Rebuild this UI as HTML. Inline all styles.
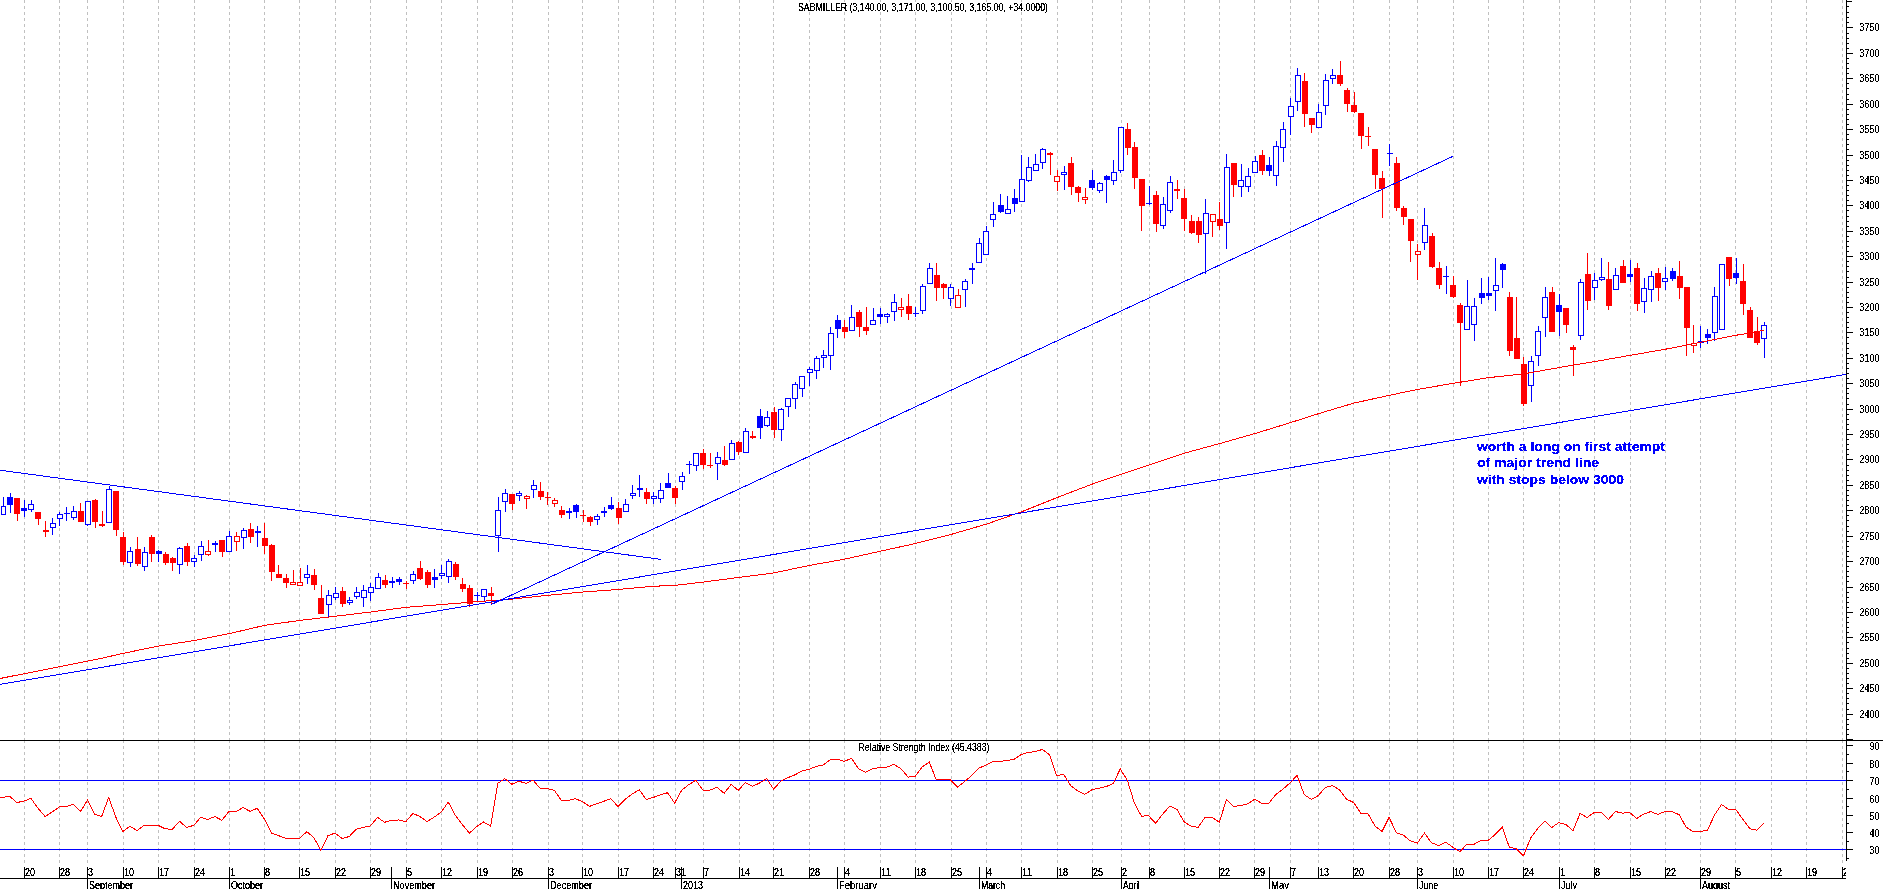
<!DOCTYPE html><html><head><meta charset="utf-8"><style>html,body{margin:0;padding:0;background:#fff;overflow:hidden}svg{display:block}text{font-family:"Liberation Sans",sans-serif}</style></head><body>
<svg width="1883" height="889" viewBox="0 0 1883 889" shape-rendering="crispEdges">
<rect x="0" y="0" width="1883" height="889" fill="#fff"/>
<defs><filter id="th" color-interpolation-filters="sRGB"><feComponentTransfer><feFuncA type="discrete" tableValues="0 1 1"/></feComponentTransfer></filter></defs>
<path d="M24.5 0V740 M59.5 0V740 M87.5 0V740 M123.5 0V740 M158.5 0V740 M194.5 0V740 M229.5 0V740 M264.5 0V740 M299.5 0V740 M335.5 0V740 M370.5 0V740 M406.5 0V740 M441.5 0V740 M477.5 0V740 M512.5 0V740 M548.5 0V740 M582.5 0V740 M618.5 0V740 M653.5 0V740 M675.5 0V740 M703.5 0V740 M739.5 0V740 M773.5 0V740 M809.5 0V740 M844.5 0V740 M880.5 0V740 M915.5 0V740 M951.5 0V740 M986.5 0V740 M1021.5 0V740 M1057.5 0V740 M1092.5 0V740 M1121.5 0V740 M1149.5 0V740 M1184.5 0V740 M1219.5 0V740 M1254.5 0V740 M1290.5 0V740 M1318.5 0V740 M1353.5 0V740 M1389.5 0V740 M1417.5 0V740 M1453.5 0V740 M1488.5 0V740 M1523.5 0V740 M1559.5 0V740 M1594.5 0V740 M1630.5 0V740 M1665.5 0V740 M1700.5 0V740 M1735.5 0V740 M1771.5 0V740 M1806.5 0V740 M1842.5 0V740" stroke="#c0c0c0" stroke-width="1" stroke-dasharray="3 3" fill="none"/>
<path d="M24.5 740V866 M59.5 740V866 M87.5 740V866 M123.5 740V866 M158.5 740V866 M194.5 740V866 M229.5 740V866 M264.5 740V866 M299.5 740V866 M335.5 740V866 M370.5 740V866 M406.5 740V866 M441.5 740V866 M477.5 740V866 M512.5 740V866 M548.5 740V866 M582.5 740V866 M618.5 740V866 M653.5 740V866 M675.5 740V866 M703.5 740V866 M739.5 740V866 M773.5 740V866 M809.5 740V866 M844.5 740V866 M880.5 740V866 M915.5 740V866 M951.5 740V866 M986.5 740V866 M1021.5 740V866 M1057.5 740V866 M1092.5 740V866 M1121.5 740V866 M1149.5 740V866 M1184.5 740V866 M1219.5 740V866 M1254.5 740V866 M1290.5 740V866 M1318.5 740V866 M1353.5 740V866 M1389.5 740V866 M1417.5 740V866 M1453.5 740V866 M1488.5 740V866 M1523.5 740V866 M1559.5 740V866 M1594.5 740V866 M1630.5 740V866 M1665.5 740V866 M1700.5 740V866 M1735.5 740V866 M1771.5 740V866 M1806.5 740V866 M1842.5 740V866" stroke="#c0c0c0" stroke-width="1" stroke-dasharray="3 3" fill="none"/>
<rect x="796" y="2" width="255" height="10" fill="#fff"/>
<g filter="url(#th)"><text x="798" y="11" font-size="10" textLength="250" lengthAdjust="spacingAndGlyphs" fill="#000">SABMILLER (3,140.00, 3,171.00, 3,100.50, 3,165.00, +34.0000)</text></g>
<rect x="856" y="742" width="136" height="10" fill="#fff"/>
<g filter="url(#th)"><text x="858.5" y="750.5" font-size="10" textLength="131" lengthAdjust="spacingAndGlyphs" fill="#000">Relative Strength Index (45.4383)</text></g>
<path d="M0 780.5H1846M0 849.5H1846" stroke="#0000ff" stroke-width="1"/>
<rect x="3" y="497" width="1" height="18" fill="#0000ff"/>
<rect x="1.5" y="506.5" width="4" height="8" fill="#fff" stroke="#0000ff" stroke-width="1"/>
<rect x="10" y="493" width="1" height="20" fill="#0000ff"/>
<rect x="7" y="497" width="6" height="8" fill="#0000ff"/>
<rect x="17" y="498" width="1" height="23" fill="#ff0000"/>
<rect x="14" y="498" width="6" height="16" fill="#ff0000"/>
<rect x="24" y="500" width="1" height="17" fill="#0000ff"/>
<rect x="21" y="508" width="6" height="3" fill="#0000ff"/>
<rect x="31" y="500" width="1" height="12" fill="#0000ff"/>
<rect x="28.5" y="504.5" width="5" height="5" fill="#fff" stroke="#0000ff" stroke-width="1"/>
<rect x="38" y="512" width="1" height="13" fill="#ff0000"/>
<rect x="35" y="512" width="6" height="7" fill="#ff0000"/>
<rect x="45" y="521" width="1" height="16" fill="#ff0000"/>
<rect x="43" y="530" width="6" height="2" fill="#ff0000"/>
<rect x="52" y="518" width="1" height="17" fill="#0000ff"/>
<rect x="50.5" y="523.5" width="5" height="4" fill="#fff" stroke="#0000ff" stroke-width="1"/>
<rect x="59" y="512" width="1" height="14" fill="#0000ff"/>
<rect x="57.5" y="514.5" width="5" height="4" fill="#fff" stroke="#0000ff" stroke-width="1"/>
<rect x="66" y="507" width="1" height="14" fill="#0000ff"/>
<rect x="64" y="513" width="6" height="1" fill="#0000ff"/>
<rect x="73" y="506" width="1" height="14" fill="#0000ff"/>
<rect x="71.5" y="511.5" width="5" height="6" fill="#fff" stroke="#0000ff" stroke-width="1"/>
<rect x="80" y="503" width="1" height="19" fill="#ff0000"/>
<rect x="78" y="511" width="6" height="11" fill="#ff0000"/>
<rect x="87" y="501" width="1" height="25" fill="#0000ff"/>
<rect x="85.5" y="501.5" width="5" height="23" fill="#fff" stroke="#0000ff" stroke-width="1"/>
<rect x="95" y="499" width="1" height="29" fill="#ff0000"/>
<rect x="92" y="500" width="6" height="22" fill="#ff0000"/>
<rect x="102" y="511" width="1" height="16" fill="#ff0000"/>
<rect x="99" y="524" width="6" height="2" fill="#ff0000"/>
<rect x="109" y="486" width="1" height="37" fill="#0000ff"/>
<rect x="106.5" y="489.5" width="5" height="33" fill="#fff" stroke="#0000ff" stroke-width="1"/>
<rect x="116" y="491" width="1" height="45" fill="#ff0000"/>
<rect x="113" y="491" width="6" height="39" fill="#ff0000"/>
<rect x="123" y="532" width="1" height="33" fill="#ff0000"/>
<rect x="120" y="537" width="6" height="25" fill="#ff0000"/>
<rect x="130" y="547" width="1" height="20" fill="#0000ff"/>
<rect x="127.5" y="551.5" width="5" height="11" fill="#fff" stroke="#0000ff" stroke-width="1"/>
<rect x="137" y="537" width="1" height="29" fill="#ff0000"/>
<rect x="135" y="549" width="6" height="15" fill="#ff0000"/>
<rect x="144" y="547" width="1" height="24" fill="#0000ff"/>
<rect x="142.5" y="552.5" width="5" height="14" fill="#fff" stroke="#0000ff" stroke-width="1"/>
<rect x="151" y="535" width="1" height="27" fill="#ff0000"/>
<rect x="149" y="537" width="6" height="17" fill="#ff0000"/>
<rect x="158" y="550" width="1" height="12" fill="#0000ff"/>
<rect x="156" y="551" width="6" height="3" fill="#0000ff"/>
<rect x="165" y="552" width="1" height="13" fill="#ff0000"/>
<rect x="163" y="554" width="6" height="9" fill="#ff0000"/>
<rect x="172" y="557" width="1" height="14" fill="#ff0000"/>
<rect x="170" y="558" width="6" height="5" fill="#ff0000"/>
<rect x="179" y="547" width="1" height="27" fill="#0000ff"/>
<rect x="177.5" y="548.5" width="5" height="16" fill="#fff" stroke="#0000ff" stroke-width="1"/>
<rect x="187" y="543" width="1" height="23" fill="#ff0000"/>
<rect x="184" y="546" width="6" height="16" fill="#ff0000"/>
<rect x="194" y="555" width="1" height="12" fill="#0000ff"/>
<rect x="191.5" y="558.5" width="5" height="3" fill="#fff" stroke="#0000ff" stroke-width="1"/>
<rect x="201" y="541" width="1" height="20" fill="#0000ff"/>
<rect x="198.5" y="546.5" width="5" height="8" fill="#fff" stroke="#0000ff" stroke-width="1"/>
<rect x="208" y="540" width="1" height="16" fill="#ff0000"/>
<rect x="205.5" y="551.5" width="5" height="3" fill="#fff" stroke="#ff0000" stroke-width="1"/>
<rect x="215" y="541" width="1" height="11" fill="#0000ff"/>
<rect x="212" y="543" width="6" height="2" fill="#0000ff"/>
<rect x="222" y="540" width="1" height="17" fill="#ff0000"/>
<rect x="219" y="540" width="6" height="12" fill="#ff0000"/>
<rect x="229" y="531" width="1" height="21" fill="#0000ff"/>
<rect x="226.5" y="536.5" width="5" height="15" fill="#fff" stroke="#0000ff" stroke-width="1"/>
<rect x="236" y="532" width="1" height="19" fill="#ff0000"/>
<rect x="234.5" y="536.5" width="5" height="5" fill="#fff" stroke="#ff0000" stroke-width="1"/>
<rect x="243" y="528" width="1" height="21" fill="#0000ff"/>
<rect x="241.5" y="530.5" width="5" height="7" fill="#fff" stroke="#0000ff" stroke-width="1"/>
<rect x="250" y="523" width="1" height="20" fill="#ff0000"/>
<rect x="248" y="529" width="6" height="8" fill="#ff0000"/>
<rect x="257" y="526" width="1" height="21" fill="#0000ff"/>
<rect x="255" y="531" width="6" height="2" fill="#0000ff"/>
<rect x="264" y="523" width="1" height="31" fill="#ff0000"/>
<rect x="262" y="538" width="6" height="8" fill="#ff0000"/>
<rect x="271" y="544" width="1" height="37" fill="#ff0000"/>
<rect x="269" y="545" width="6" height="27" fill="#ff0000"/>
<rect x="278" y="565" width="1" height="13" fill="#ff0000"/>
<rect x="276" y="574" width="6" height="4" fill="#ff0000"/>
<rect x="286" y="574" width="1" height="14" fill="#ff0000"/>
<rect x="283" y="578" width="6" height="5" fill="#ff0000"/>
<rect x="293" y="570" width="1" height="15" fill="#ff0000"/>
<rect x="290.5" y="582.5" width="5" height="2" fill="#fff" stroke="#ff0000" stroke-width="1"/>
<rect x="300" y="568" width="1" height="18" fill="#ff0000"/>
<rect x="297.5" y="582.5" width="5" height="3" fill="#fff" stroke="#ff0000" stroke-width="1"/>
<rect x="307" y="565" width="1" height="19" fill="#0000ff"/>
<rect x="304.5" y="574.5" width="5" height="3" fill="#fff" stroke="#0000ff" stroke-width="1"/>
<rect x="314" y="569" width="1" height="21" fill="#ff0000"/>
<rect x="311" y="575" width="6" height="10" fill="#ff0000"/>
<rect x="321" y="585" width="1" height="29" fill="#ff0000"/>
<rect x="318" y="598" width="6" height="16" fill="#ff0000"/>
<rect x="328" y="590" width="1" height="27" fill="#0000ff"/>
<rect x="326.5" y="595.5" width="5" height="9" fill="#fff" stroke="#0000ff" stroke-width="1"/>
<rect x="335" y="587" width="1" height="13" fill="#0000ff"/>
<rect x="333.5" y="593.5" width="5" height="4" fill="#fff" stroke="#0000ff" stroke-width="1"/>
<rect x="342" y="587" width="1" height="20" fill="#ff0000"/>
<rect x="340" y="591" width="6" height="13" fill="#ff0000"/>
<rect x="349" y="597" width="1" height="8" fill="#0000ff"/>
<rect x="347.5" y="600.5" width="5" height="2" fill="#fff" stroke="#0000ff" stroke-width="1"/>
<rect x="356" y="587" width="1" height="12" fill="#0000ff"/>
<rect x="354.5" y="592.5" width="5" height="4" fill="#fff" stroke="#0000ff" stroke-width="1"/>
<rect x="363" y="585" width="1" height="22" fill="#0000ff"/>
<rect x="361.5" y="590.5" width="5" height="7" fill="#fff" stroke="#0000ff" stroke-width="1"/>
<rect x="370" y="583" width="1" height="18" fill="#0000ff"/>
<rect x="368.5" y="587.5" width="5" height="5" fill="#fff" stroke="#0000ff" stroke-width="1"/>
<rect x="378" y="573" width="1" height="16" fill="#0000ff"/>
<rect x="375.5" y="577.5" width="5" height="11" fill="#fff" stroke="#0000ff" stroke-width="1"/>
<rect x="385" y="575" width="1" height="13" fill="#ff0000"/>
<rect x="382" y="580" width="6" height="5" fill="#ff0000"/>
<rect x="392" y="577" width="1" height="11" fill="#0000ff"/>
<rect x="389" y="581" width="6" height="2" fill="#0000ff"/>
<rect x="399" y="577" width="1" height="8" fill="#0000ff"/>
<rect x="396" y="579" width="6" height="3" fill="#0000ff"/>
<rect x="406" y="581" width="1" height="8" fill="#ff0000"/>
<rect x="403" y="583" width="6" height="1" fill="#ff0000"/>
<rect x="413" y="571" width="1" height="13" fill="#0000ff"/>
<rect x="410.5" y="574.5" width="5" height="6" fill="#fff" stroke="#0000ff" stroke-width="1"/>
<rect x="420" y="561" width="1" height="19" fill="#ff0000"/>
<rect x="417" y="568" width="6" height="11" fill="#ff0000"/>
<rect x="427" y="570" width="1" height="18" fill="#ff0000"/>
<rect x="425" y="572" width="6" height="13" fill="#ff0000"/>
<rect x="434" y="569" width="1" height="19" fill="#0000ff"/>
<rect x="432" y="577" width="6" height="3" fill="#0000ff"/>
<rect x="441" y="565" width="1" height="14" fill="#0000ff"/>
<rect x="439.5" y="573.5" width="5" height="2" fill="#fff" stroke="#0000ff" stroke-width="1"/>
<rect x="448" y="559" width="1" height="24" fill="#0000ff"/>
<rect x="446.5" y="561.5" width="5" height="15" fill="#fff" stroke="#0000ff" stroke-width="1"/>
<rect x="455" y="562" width="1" height="18" fill="#ff0000"/>
<rect x="453" y="564" width="6" height="13" fill="#ff0000"/>
<rect x="462" y="578" width="1" height="14" fill="#ff0000"/>
<rect x="460" y="584" width="6" height="5" fill="#ff0000"/>
<rect x="469" y="585" width="1" height="22" fill="#ff0000"/>
<rect x="467" y="588" width="6" height="16" fill="#ff0000"/>
<rect x="477" y="592" width="1" height="9" fill="#0000ff"/>
<rect x="474" y="595" width="6" height="1" fill="#0000ff"/>
<rect x="484" y="589" width="1" height="12" fill="#0000ff"/>
<rect x="481.5" y="589.5" width="5" height="7" fill="#fff" stroke="#0000ff" stroke-width="1"/>
<rect x="491" y="587" width="1" height="18" fill="#ff0000"/>
<rect x="488" y="593" width="6" height="3" fill="#ff0000"/>
<rect x="498" y="497" width="1" height="55" fill="#0000ff"/>
<rect x="495.5" y="510.5" width="5" height="25" fill="#fff" stroke="#0000ff" stroke-width="1"/>
<rect x="505" y="489" width="1" height="23" fill="#0000ff"/>
<rect x="502.5" y="493.5" width="5" height="8" fill="#fff" stroke="#0000ff" stroke-width="1"/>
<rect x="512" y="494" width="1" height="16" fill="#ff0000"/>
<rect x="509" y="494" width="6" height="10" fill="#ff0000"/>
<rect x="519" y="491" width="1" height="10" fill="#0000ff"/>
<rect x="516.5" y="493.5" width="5" height="2" fill="#fff" stroke="#0000ff" stroke-width="1"/>
<rect x="526" y="495" width="1" height="14" fill="#ff0000"/>
<rect x="524.5" y="496.5" width="5" height="2" fill="#fff" stroke="#ff0000" stroke-width="1"/>
<rect x="533" y="480" width="1" height="18" fill="#0000ff"/>
<rect x="531.5" y="485.5" width="5" height="4" fill="#fff" stroke="#0000ff" stroke-width="1"/>
<rect x="540" y="482" width="1" height="18" fill="#ff0000"/>
<rect x="538" y="491" width="6" height="6" fill="#ff0000"/>
<rect x="547" y="492" width="1" height="13" fill="#ff0000"/>
<rect x="545" y="497" width="6" height="1" fill="#ff0000"/>
<rect x="554" y="498" width="1" height="9" fill="#ff0000"/>
<rect x="552.5" y="500.5" width="5" height="3" fill="#fff" stroke="#ff0000" stroke-width="1"/>
<rect x="561" y="506" width="1" height="12" fill="#ff0000"/>
<rect x="559" y="510" width="6" height="5" fill="#ff0000"/>
<rect x="569" y="508" width="1" height="11" fill="#0000ff"/>
<rect x="566" y="511" width="6" height="2" fill="#0000ff"/>
<rect x="576" y="504" width="1" height="14" fill="#0000ff"/>
<rect x="573" y="505" width="6" height="7" fill="#0000ff"/>
<rect x="583" y="510" width="1" height="12" fill="#ff0000"/>
<rect x="580" y="515" width="6" height="1" fill="#ff0000"/>
<rect x="590" y="516" width="1" height="10" fill="#ff0000"/>
<rect x="587" y="517" width="6" height="5" fill="#ff0000"/>
<rect x="597" y="514" width="1" height="11" fill="#0000ff"/>
<rect x="594.5" y="516.5" width="5" height="3" fill="#fff" stroke="#0000ff" stroke-width="1"/>
<rect x="604" y="507" width="1" height="10" fill="#0000ff"/>
<rect x="601" y="511" width="6" height="2" fill="#0000ff"/>
<rect x="611" y="497" width="1" height="13" fill="#0000ff"/>
<rect x="608" y="505" width="6" height="4" fill="#0000ff"/>
<rect x="618" y="502" width="1" height="22" fill="#ff0000"/>
<rect x="616" y="508" width="6" height="10" fill="#ff0000"/>
<rect x="625" y="499" width="1" height="13" fill="#0000ff"/>
<rect x="623.5" y="504.5" width="5" height="7" fill="#fff" stroke="#0000ff" stroke-width="1"/>
<rect x="632" y="485" width="1" height="14" fill="#0000ff"/>
<rect x="630.5" y="493.5" width="5" height="2" fill="#fff" stroke="#0000ff" stroke-width="1"/>
<rect x="639" y="475" width="1" height="22" fill="#0000ff"/>
<rect x="637" y="488" width="6" height="2" fill="#0000ff"/>
<rect x="646" y="488" width="1" height="16" fill="#ff0000"/>
<rect x="644" y="492" width="6" height="7" fill="#ff0000"/>
<rect x="653" y="492" width="1" height="12" fill="#0000ff"/>
<rect x="651.5" y="496.5" width="5" height="2" fill="#fff" stroke="#0000ff" stroke-width="1"/>
<rect x="660" y="483" width="1" height="20" fill="#0000ff"/>
<rect x="658.5" y="490.5" width="5" height="8" fill="#fff" stroke="#0000ff" stroke-width="1"/>
<rect x="668" y="473" width="1" height="15" fill="#0000ff"/>
<rect x="665" y="483" width="6" height="5" fill="#0000ff"/>
<rect x="675" y="486" width="1" height="18" fill="#ff0000"/>
<rect x="672" y="488" width="6" height="10" fill="#ff0000"/>
<rect x="682" y="472" width="1" height="18" fill="#0000ff"/>
<rect x="679.5" y="476.5" width="5" height="5" fill="#fff" stroke="#0000ff" stroke-width="1"/>
<rect x="689" y="461" width="1" height="13" fill="#0000ff"/>
<rect x="686" y="464" width="6" height="1" fill="#0000ff"/>
<rect x="696" y="453" width="1" height="18" fill="#0000ff"/>
<rect x="693.5" y="453.5" width="5" height="12" fill="#fff" stroke="#0000ff" stroke-width="1"/>
<rect x="703" y="449" width="1" height="20" fill="#ff0000"/>
<rect x="700" y="453" width="6" height="12" fill="#ff0000"/>
<rect x="710" y="453" width="1" height="15" fill="#ff0000"/>
<rect x="707" y="465" width="6" height="1" fill="#ff0000"/>
<rect x="717" y="452" width="1" height="28" fill="#0000ff"/>
<rect x="715.5" y="457.5" width="5" height="6" fill="#fff" stroke="#0000ff" stroke-width="1"/>
<rect x="724" y="446" width="1" height="20" fill="#ff0000"/>
<rect x="722" y="460" width="6" height="5" fill="#ff0000"/>
<rect x="731" y="440" width="1" height="20" fill="#0000ff"/>
<rect x="729.5" y="443.5" width="5" height="16" fill="#fff" stroke="#0000ff" stroke-width="1"/>
<rect x="738" y="441" width="1" height="14" fill="#ff0000"/>
<rect x="736" y="442" width="6" height="10" fill="#ff0000"/>
<rect x="745" y="428" width="1" height="25" fill="#0000ff"/>
<rect x="743.5" y="431.5" width="5" height="21" fill="#fff" stroke="#0000ff" stroke-width="1"/>
<rect x="752" y="431" width="1" height="8" fill="#ff0000"/>
<rect x="750" y="436" width="6" height="2" fill="#ff0000"/>
<rect x="760" y="409" width="1" height="30" fill="#0000ff"/>
<rect x="757" y="416" width="6" height="12" fill="#0000ff"/>
<rect x="767" y="411" width="1" height="16" fill="#0000ff"/>
<rect x="764.5" y="417.5" width="5" height="8" fill="#fff" stroke="#0000ff" stroke-width="1"/>
<rect x="774" y="407" width="1" height="31" fill="#ff0000"/>
<rect x="771" y="412" width="6" height="18" fill="#ff0000"/>
<rect x="781" y="408" width="1" height="33" fill="#0000ff"/>
<rect x="778.5" y="409.5" width="5" height="20" fill="#fff" stroke="#0000ff" stroke-width="1"/>
<rect x="788" y="398" width="1" height="19" fill="#0000ff"/>
<rect x="785.5" y="398.5" width="5" height="8" fill="#fff" stroke="#0000ff" stroke-width="1"/>
<rect x="795" y="382" width="1" height="27" fill="#0000ff"/>
<rect x="792.5" y="384.5" width="5" height="14" fill="#fff" stroke="#0000ff" stroke-width="1"/>
<rect x="802" y="376" width="1" height="21" fill="#0000ff"/>
<rect x="799.5" y="376.5" width="5" height="12" fill="#fff" stroke="#0000ff" stroke-width="1"/>
<rect x="809" y="367" width="1" height="19" fill="#0000ff"/>
<rect x="807.5" y="369.5" width="5" height="3" fill="#fff" stroke="#0000ff" stroke-width="1"/>
<rect x="816" y="356" width="1" height="23" fill="#0000ff"/>
<rect x="814.5" y="358.5" width="5" height="12" fill="#fff" stroke="#0000ff" stroke-width="1"/>
<rect x="823" y="350" width="1" height="18" fill="#0000ff"/>
<rect x="821.5" y="355.5" width="5" height="2" fill="#fff" stroke="#0000ff" stroke-width="1"/>
<rect x="830" y="327" width="1" height="43" fill="#0000ff"/>
<rect x="828.5" y="333.5" width="5" height="22" fill="#fff" stroke="#0000ff" stroke-width="1"/>
<rect x="837" y="315" width="1" height="23" fill="#0000ff"/>
<rect x="835" y="320" width="6" height="9" fill="#0000ff"/>
<rect x="844" y="320" width="1" height="18" fill="#ff0000"/>
<rect x="842" y="327" width="6" height="5" fill="#ff0000"/>
<rect x="851" y="305" width="1" height="26" fill="#0000ff"/>
<rect x="849.5" y="317.5" width="5" height="13" fill="#fff" stroke="#0000ff" stroke-width="1"/>
<rect x="859" y="310" width="1" height="27" fill="#ff0000"/>
<rect x="856" y="312" width="6" height="15" fill="#ff0000"/>
<rect x="866" y="307" width="1" height="28" fill="#ff0000"/>
<rect x="863" y="327" width="6" height="4" fill="#ff0000"/>
<rect x="873" y="308" width="1" height="17" fill="#0000ff"/>
<rect x="870.5" y="320.5" width="5" height="4" fill="#fff" stroke="#0000ff" stroke-width="1"/>
<rect x="880" y="308" width="1" height="16" fill="#0000ff"/>
<rect x="877" y="314" width="6" height="3" fill="#0000ff"/>
<rect x="887" y="313" width="1" height="10" fill="#0000ff"/>
<rect x="884.5" y="314.5" width="5" height="2" fill="#fff" stroke="#0000ff" stroke-width="1"/>
<rect x="894" y="294" width="1" height="27" fill="#0000ff"/>
<rect x="891.5" y="302.5" width="5" height="9" fill="#fff" stroke="#0000ff" stroke-width="1"/>
<rect x="901" y="298" width="1" height="19" fill="#ff0000"/>
<rect x="898.5" y="307.5" width="5" height="2" fill="#fff" stroke="#ff0000" stroke-width="1"/>
<rect x="908" y="294" width="1" height="26" fill="#ff0000"/>
<rect x="906" y="306" width="6" height="8" fill="#ff0000"/>
<rect x="915" y="307" width="1" height="10" fill="#0000ff"/>
<rect x="913" y="313" width="6" height="1" fill="#0000ff"/>
<rect x="922" y="284" width="1" height="30" fill="#0000ff"/>
<rect x="920.5" y="286.5" width="5" height="24" fill="#fff" stroke="#0000ff" stroke-width="1"/>
<rect x="929" y="263" width="1" height="21" fill="#0000ff"/>
<rect x="927.5" y="268.5" width="5" height="15" fill="#fff" stroke="#0000ff" stroke-width="1"/>
<rect x="936" y="263" width="1" height="38" fill="#ff0000"/>
<rect x="934" y="275" width="6" height="13" fill="#ff0000"/>
<rect x="943" y="283" width="1" height="16" fill="#ff0000"/>
<rect x="941" y="284" width="6" height="4" fill="#ff0000"/>
<rect x="950" y="284" width="1" height="22" fill="#0000ff"/>
<rect x="948.5" y="287.5" width="5" height="11" fill="#fff" stroke="#0000ff" stroke-width="1"/>
<rect x="958" y="289" width="1" height="19" fill="#ff0000"/>
<rect x="955.5" y="295.5" width="5" height="12" fill="#fff" stroke="#ff0000" stroke-width="1"/>
<rect x="965" y="279" width="1" height="28" fill="#0000ff"/>
<rect x="962.5" y="281.5" width="5" height="8" fill="#fff" stroke="#0000ff" stroke-width="1"/>
<rect x="972" y="263" width="1" height="21" fill="#0000ff"/>
<rect x="969" y="268" width="6" height="2" fill="#0000ff"/>
<rect x="979" y="238" width="1" height="25" fill="#0000ff"/>
<rect x="976.5" y="243.5" width="5" height="19" fill="#fff" stroke="#0000ff" stroke-width="1"/>
<rect x="986" y="226" width="1" height="29" fill="#0000ff"/>
<rect x="983.5" y="231.5" width="5" height="23" fill="#fff" stroke="#0000ff" stroke-width="1"/>
<rect x="993" y="202" width="1" height="25" fill="#0000ff"/>
<rect x="990.5" y="214.5" width="5" height="5" fill="#fff" stroke="#0000ff" stroke-width="1"/>
<rect x="1000" y="194" width="1" height="19" fill="#0000ff"/>
<rect x="998" y="205" width="6" height="7" fill="#0000ff"/>
<rect x="1007" y="196" width="1" height="18" fill="#0000ff"/>
<rect x="1005.5" y="209.5" width="5" height="4" fill="#fff" stroke="#0000ff" stroke-width="1"/>
<rect x="1014" y="189" width="1" height="23" fill="#0000ff"/>
<rect x="1012" y="198" width="6" height="6" fill="#0000ff"/>
<rect x="1021" y="155" width="1" height="47" fill="#0000ff"/>
<rect x="1019.5" y="179.5" width="5" height="22" fill="#fff" stroke="#0000ff" stroke-width="1"/>
<rect x="1028" y="157" width="1" height="25" fill="#0000ff"/>
<rect x="1026.5" y="167.5" width="5" height="13" fill="#fff" stroke="#0000ff" stroke-width="1"/>
<rect x="1035" y="154" width="1" height="17" fill="#0000ff"/>
<rect x="1033.5" y="164.5" width="5" height="6" fill="#fff" stroke="#0000ff" stroke-width="1"/>
<rect x="1042" y="148" width="1" height="21" fill="#0000ff"/>
<rect x="1040.5" y="149.5" width="5" height="13" fill="#fff" stroke="#0000ff" stroke-width="1"/>
<rect x="1050" y="152" width="1" height="23" fill="#ff0000"/>
<rect x="1047" y="153" width="6" height="2" fill="#ff0000"/>
<rect x="1057" y="170" width="1" height="21" fill="#ff0000"/>
<rect x="1054.5" y="176.5" width="5" height="5" fill="#fff" stroke="#ff0000" stroke-width="1"/>
<rect x="1064" y="166" width="1" height="24" fill="#0000ff"/>
<rect x="1061.5" y="172.5" width="5" height="2" fill="#fff" stroke="#0000ff" stroke-width="1"/>
<rect x="1071" y="157" width="1" height="38" fill="#ff0000"/>
<rect x="1068" y="163" width="6" height="24" fill="#ff0000"/>
<rect x="1078" y="186" width="1" height="16" fill="#ff0000"/>
<rect x="1075" y="187" width="6" height="6" fill="#ff0000"/>
<rect x="1085" y="188" width="1" height="16" fill="#ff0000"/>
<rect x="1082.5" y="197.5" width="5" height="2" fill="#fff" stroke="#ff0000" stroke-width="1"/>
<rect x="1092" y="170" width="1" height="20" fill="#0000ff"/>
<rect x="1089" y="180" width="6" height="8" fill="#0000ff"/>
<rect x="1099" y="182" width="1" height="11" fill="#0000ff"/>
<rect x="1097.5" y="183.5" width="5" height="7" fill="#fff" stroke="#0000ff" stroke-width="1"/>
<rect x="1106" y="175" width="1" height="28" fill="#0000ff"/>
<rect x="1104" y="176" width="6" height="4" fill="#0000ff"/>
<rect x="1113" y="160" width="1" height="25" fill="#0000ff"/>
<rect x="1111.5" y="172.5" width="5" height="8" fill="#fff" stroke="#0000ff" stroke-width="1"/>
<rect x="1120" y="127" width="1" height="46" fill="#0000ff"/>
<rect x="1118.5" y="127.5" width="5" height="43" fill="#fff" stroke="#0000ff" stroke-width="1"/>
<rect x="1127" y="123" width="1" height="32" fill="#ff0000"/>
<rect x="1125" y="129" width="6" height="19" fill="#ff0000"/>
<rect x="1134" y="142" width="1" height="47" fill="#ff0000"/>
<rect x="1132" y="147" width="6" height="31" fill="#ff0000"/>
<rect x="1141" y="179" width="1" height="52" fill="#ff0000"/>
<rect x="1139" y="179" width="6" height="27" fill="#ff0000"/>
<rect x="1149" y="186" width="1" height="19" fill="#0000ff"/>
<rect x="1146" y="203" width="6" height="1" fill="#0000ff"/>
<rect x="1156" y="191" width="1" height="41" fill="#ff0000"/>
<rect x="1153" y="195" width="6" height="29" fill="#ff0000"/>
<rect x="1163" y="197" width="1" height="32" fill="#0000ff"/>
<rect x="1160.5" y="204.5" width="5" height="21" fill="#fff" stroke="#0000ff" stroke-width="1"/>
<rect x="1170" y="176" width="1" height="37" fill="#0000ff"/>
<rect x="1167.5" y="182.5" width="5" height="28" fill="#fff" stroke="#0000ff" stroke-width="1"/>
<rect x="1177" y="180" width="1" height="19" fill="#ff0000"/>
<rect x="1174" y="189" width="6" height="2" fill="#ff0000"/>
<rect x="1184" y="189" width="1" height="42" fill="#ff0000"/>
<rect x="1181" y="198" width="6" height="21" fill="#ff0000"/>
<rect x="1191" y="215" width="1" height="19" fill="#ff0000"/>
<rect x="1189" y="221" width="6" height="12" fill="#ff0000"/>
<rect x="1198" y="217" width="1" height="26" fill="#ff0000"/>
<rect x="1196" y="221" width="6" height="14" fill="#ff0000"/>
<rect x="1205" y="199" width="1" height="75" fill="#0000ff"/>
<rect x="1203.5" y="213.5" width="5" height="20" fill="#fff" stroke="#0000ff" stroke-width="1"/>
<rect x="1212" y="214" width="1" height="23" fill="#ff0000"/>
<rect x="1210.5" y="214.5" width="5" height="7" fill="#fff" stroke="#ff0000" stroke-width="1"/>
<rect x="1219" y="202" width="1" height="28" fill="#ff0000"/>
<rect x="1217" y="219" width="6" height="7" fill="#ff0000"/>
<rect x="1226" y="154" width="1" height="95" fill="#0000ff"/>
<rect x="1224.5" y="167.5" width="5" height="55" fill="#fff" stroke="#0000ff" stroke-width="1"/>
<rect x="1233" y="163" width="1" height="34" fill="#ff0000"/>
<rect x="1231" y="163" width="6" height="22" fill="#ff0000"/>
<rect x="1241" y="164" width="1" height="33" fill="#0000ff"/>
<rect x="1238.5" y="180.5" width="5" height="6" fill="#fff" stroke="#0000ff" stroke-width="1"/>
<rect x="1248" y="168" width="1" height="24" fill="#0000ff"/>
<rect x="1245.5" y="176.5" width="5" height="10" fill="#fff" stroke="#0000ff" stroke-width="1"/>
<rect x="1255" y="156" width="1" height="17" fill="#0000ff"/>
<rect x="1252.5" y="161.5" width="5" height="11" fill="#fff" stroke="#0000ff" stroke-width="1"/>
<rect x="1262" y="150" width="1" height="25" fill="#ff0000"/>
<rect x="1259" y="155" width="6" height="16" fill="#ff0000"/>
<rect x="1269" y="157" width="1" height="19" fill="#0000ff"/>
<rect x="1266" y="165" width="6" height="6" fill="#0000ff"/>
<rect x="1276" y="141" width="1" height="45" fill="#0000ff"/>
<rect x="1273.5" y="146.5" width="5" height="29" fill="#fff" stroke="#0000ff" stroke-width="1"/>
<rect x="1283" y="122" width="1" height="40" fill="#0000ff"/>
<rect x="1280.5" y="129.5" width="5" height="18" fill="#fff" stroke="#0000ff" stroke-width="1"/>
<rect x="1290" y="98" width="1" height="37" fill="#0000ff"/>
<rect x="1288.5" y="106.5" width="5" height="10" fill="#fff" stroke="#0000ff" stroke-width="1"/>
<rect x="1297" y="68" width="1" height="43" fill="#0000ff"/>
<rect x="1295.5" y="75.5" width="5" height="26" fill="#fff" stroke="#0000ff" stroke-width="1"/>
<rect x="1304" y="73" width="1" height="54" fill="#ff0000"/>
<rect x="1302" y="81" width="6" height="33" fill="#ff0000"/>
<rect x="1311" y="118" width="1" height="15" fill="#ff0000"/>
<rect x="1309" y="118" width="6" height="7" fill="#ff0000"/>
<rect x="1318" y="104" width="1" height="24" fill="#0000ff"/>
<rect x="1316.5" y="112.5" width="5" height="15" fill="#fff" stroke="#0000ff" stroke-width="1"/>
<rect x="1325" y="74" width="1" height="41" fill="#0000ff"/>
<rect x="1323.5" y="80.5" width="5" height="25" fill="#fff" stroke="#0000ff" stroke-width="1"/>
<rect x="1332" y="69" width="1" height="15" fill="#0000ff"/>
<rect x="1330.5" y="75.5" width="5" height="3" fill="#fff" stroke="#0000ff" stroke-width="1"/>
<rect x="1340" y="61" width="1" height="25" fill="#ff0000"/>
<rect x="1337" y="75" width="6" height="9" fill="#ff0000"/>
<rect x="1347" y="88" width="1" height="24" fill="#ff0000"/>
<rect x="1344" y="90" width="6" height="14" fill="#ff0000"/>
<rect x="1354" y="92" width="1" height="21" fill="#ff0000"/>
<rect x="1351" y="105" width="6" height="7" fill="#ff0000"/>
<rect x="1361" y="113" width="1" height="36" fill="#ff0000"/>
<rect x="1358" y="113" width="6" height="23" fill="#ff0000"/>
<rect x="1368" y="127" width="1" height="19" fill="#ff0000"/>
<rect x="1365" y="136" width="6" height="1" fill="#ff0000"/>
<rect x="1375" y="149" width="1" height="40" fill="#ff0000"/>
<rect x="1372" y="149" width="6" height="26" fill="#ff0000"/>
<rect x="1382" y="171" width="1" height="47" fill="#ff0000"/>
<rect x="1379" y="178" width="6" height="11" fill="#ff0000"/>
<rect x="1389" y="144" width="1" height="22" fill="#0000ff"/>
<rect x="1387" y="153" width="6" height="1" fill="#0000ff"/>
<rect x="1396" y="157" width="1" height="54" fill="#ff0000"/>
<rect x="1394" y="163" width="6" height="45" fill="#ff0000"/>
<rect x="1403" y="206" width="1" height="19" fill="#ff0000"/>
<rect x="1401" y="208" width="6" height="9" fill="#ff0000"/>
<rect x="1410" y="219" width="1" height="43" fill="#ff0000"/>
<rect x="1408" y="219" width="6" height="22" fill="#ff0000"/>
<rect x="1417" y="244" width="1" height="36" fill="#ff0000"/>
<rect x="1415.5" y="251.5" width="5" height="3" fill="#fff" stroke="#ff0000" stroke-width="1"/>
<rect x="1424" y="208" width="1" height="42" fill="#0000ff"/>
<rect x="1422.5" y="225.5" width="5" height="17" fill="#fff" stroke="#0000ff" stroke-width="1"/>
<rect x="1432" y="233" width="1" height="35" fill="#ff0000"/>
<rect x="1429" y="236" width="6" height="31" fill="#ff0000"/>
<rect x="1439" y="262" width="1" height="27" fill="#ff0000"/>
<rect x="1436" y="268" width="6" height="17" fill="#ff0000"/>
<rect x="1446" y="266" width="1" height="28" fill="#0000ff"/>
<rect x="1443" y="276" width="6" height="1" fill="#0000ff"/>
<rect x="1453" y="276" width="1" height="22" fill="#ff0000"/>
<rect x="1450" y="285" width="6" height="12" fill="#ff0000"/>
<rect x="1460" y="303" width="1" height="83" fill="#ff0000"/>
<rect x="1457" y="305" width="6" height="18" fill="#ff0000"/>
<rect x="1467" y="280" width="1" height="50" fill="#0000ff"/>
<rect x="1464.5" y="306.5" width="5" height="23" fill="#fff" stroke="#0000ff" stroke-width="1"/>
<rect x="1474" y="298" width="1" height="43" fill="#0000ff"/>
<rect x="1471.5" y="306.5" width="5" height="18" fill="#fff" stroke="#0000ff" stroke-width="1"/>
<rect x="1481" y="278" width="1" height="26" fill="#0000ff"/>
<rect x="1479" y="293" width="6" height="5" fill="#0000ff"/>
<rect x="1488" y="277" width="1" height="23" fill="#0000ff"/>
<rect x="1486" y="293" width="6" height="3" fill="#0000ff"/>
<rect x="1495" y="258" width="1" height="53" fill="#0000ff"/>
<rect x="1493.5" y="285.5" width="5" height="5" fill="#fff" stroke="#0000ff" stroke-width="1"/>
<rect x="1502" y="263" width="1" height="25" fill="#0000ff"/>
<rect x="1500" y="264" width="6" height="6" fill="#0000ff"/>
<rect x="1509" y="292" width="1" height="64" fill="#ff0000"/>
<rect x="1507" y="297" width="6" height="54" fill="#ff0000"/>
<rect x="1516" y="297" width="1" height="62" fill="#ff0000"/>
<rect x="1514" y="338" width="6" height="21" fill="#ff0000"/>
<rect x="1523" y="357" width="1" height="49" fill="#ff0000"/>
<rect x="1521" y="364" width="6" height="40" fill="#ff0000"/>
<rect x="1531" y="356" width="1" height="46" fill="#0000ff"/>
<rect x="1528.5" y="361.5" width="5" height="24" fill="#fff" stroke="#0000ff" stroke-width="1"/>
<rect x="1538" y="326" width="1" height="40" fill="#0000ff"/>
<rect x="1535.5" y="331.5" width="5" height="24" fill="#fff" stroke="#0000ff" stroke-width="1"/>
<rect x="1545" y="287" width="1" height="50" fill="#0000ff"/>
<rect x="1542.5" y="297.5" width="5" height="20" fill="#fff" stroke="#0000ff" stroke-width="1"/>
<rect x="1552" y="287" width="1" height="45" fill="#ff0000"/>
<rect x="1549" y="292" width="6" height="40" fill="#ff0000"/>
<rect x="1559" y="294" width="1" height="42" fill="#0000ff"/>
<rect x="1556" y="305" width="6" height="7" fill="#0000ff"/>
<rect x="1566" y="308" width="1" height="25" fill="#ff0000"/>
<rect x="1563" y="308" width="6" height="17" fill="#ff0000"/>
<rect x="1573" y="345" width="1" height="31" fill="#ff0000"/>
<rect x="1570" y="347" width="6" height="3" fill="#ff0000"/>
<rect x="1580" y="279" width="1" height="61" fill="#0000ff"/>
<rect x="1578.5" y="282.5" width="5" height="53" fill="#fff" stroke="#0000ff" stroke-width="1"/>
<rect x="1587" y="253" width="1" height="57" fill="#ff0000"/>
<rect x="1585" y="274" width="6" height="27" fill="#ff0000"/>
<rect x="1594" y="273" width="1" height="27" fill="#0000ff"/>
<rect x="1592.5" y="280.5" width="5" height="7" fill="#fff" stroke="#0000ff" stroke-width="1"/>
<rect x="1601" y="258" width="1" height="23" fill="#0000ff"/>
<rect x="1599.5" y="277.5" width="5" height="2" fill="#fff" stroke="#0000ff" stroke-width="1"/>
<rect x="1608" y="262" width="1" height="48" fill="#ff0000"/>
<rect x="1606" y="279" width="6" height="27" fill="#ff0000"/>
<rect x="1615" y="268" width="1" height="22" fill="#0000ff"/>
<rect x="1613.5" y="275.5" width="5" height="14" fill="#fff" stroke="#0000ff" stroke-width="1"/>
<rect x="1623" y="260" width="1" height="23" fill="#ff0000"/>
<rect x="1620" y="266" width="6" height="17" fill="#ff0000"/>
<rect x="1630" y="260" width="1" height="22" fill="#0000ff"/>
<rect x="1627" y="274" width="6" height="3" fill="#0000ff"/>
<rect x="1637" y="263" width="1" height="48" fill="#ff0000"/>
<rect x="1634" y="268" width="6" height="36" fill="#ff0000"/>
<rect x="1644" y="278" width="1" height="35" fill="#0000ff"/>
<rect x="1641.5" y="288.5" width="5" height="13" fill="#fff" stroke="#0000ff" stroke-width="1"/>
<rect x="1651" y="271" width="1" height="31" fill="#0000ff"/>
<rect x="1648.5" y="276.5" width="5" height="13" fill="#fff" stroke="#0000ff" stroke-width="1"/>
<rect x="1658" y="268" width="1" height="33" fill="#ff0000"/>
<rect x="1655" y="273" width="6" height="15" fill="#ff0000"/>
<rect x="1665" y="267" width="1" height="23" fill="#0000ff"/>
<rect x="1662.5" y="278.5" width="5" height="3" fill="#fff" stroke="#0000ff" stroke-width="1"/>
<rect x="1672" y="268" width="1" height="13" fill="#0000ff"/>
<rect x="1670" y="271" width="6" height="8" fill="#0000ff"/>
<rect x="1679" y="261" width="1" height="38" fill="#ff0000"/>
<rect x="1677" y="276" width="6" height="12" fill="#ff0000"/>
<rect x="1686" y="287" width="1" height="69" fill="#ff0000"/>
<rect x="1684" y="287" width="6" height="41" fill="#ff0000"/>
<rect x="1693" y="325" width="1" height="28" fill="#ff0000"/>
<rect x="1691.5" y="343.5" width="5" height="2" fill="#fff" stroke="#ff0000" stroke-width="1"/>
<rect x="1700" y="326" width="1" height="22" fill="#0000ff"/>
<rect x="1698.5" y="341.5" width="5" height="1" fill="#fff" stroke="#0000ff" stroke-width="1"/>
<rect x="1707" y="329" width="1" height="15" fill="#0000ff"/>
<rect x="1705" y="334" width="6" height="4" fill="#0000ff"/>
<rect x="1714" y="287" width="1" height="54" fill="#0000ff"/>
<rect x="1712.5" y="296.5" width="5" height="36" fill="#fff" stroke="#0000ff" stroke-width="1"/>
<rect x="1722" y="264" width="1" height="66" fill="#0000ff"/>
<rect x="1719.5" y="264.5" width="5" height="65" fill="#fff" stroke="#0000ff" stroke-width="1"/>
<rect x="1729" y="257" width="1" height="29" fill="#ff0000"/>
<rect x="1726" y="257" width="6" height="22" fill="#ff0000"/>
<rect x="1736" y="258" width="1" height="26" fill="#0000ff"/>
<rect x="1733" y="273" width="6" height="5" fill="#0000ff"/>
<rect x="1743" y="264" width="1" height="51" fill="#ff0000"/>
<rect x="1740" y="281" width="6" height="23" fill="#ff0000"/>
<rect x="1750" y="307" width="1" height="31" fill="#ff0000"/>
<rect x="1747" y="310" width="6" height="28" fill="#ff0000"/>
<rect x="1757" y="317" width="1" height="28" fill="#ff0000"/>
<rect x="1754" y="331" width="6" height="12" fill="#ff0000"/>
<rect x="1764" y="322" width="1" height="36" fill="#0000ff"/>
<rect x="1761.5" y="325.5" width="5" height="13" fill="#fff" stroke="#0000ff" stroke-width="1"/>
<polyline points="0,678.5 100,658.6 123.5,653.3 158.4,646.1 194.4,640.5 229.4,633.6 264.4,625.4 300,620.4 335,616.3 370,612.1 406,607.3 441,604.6 477,601.7 512,599.1 548,595.3 582,592.1 618,589.5 653,586.3 675,585.3 700,582.5 739,577.4 773,573.1 809,565.5 844,559.3 880,551.3 915.5,543.5 951.5,534.3 986.5,524.1 1021.5,511.8 1057.5,497.4 1092.5,484 1121.4,474.1 1149.4,465 1184.4,453.2 1219.5,443.6 1254.5,433.7 1290.5,422.6 1318.4,413.7 1353.5,403.2 1389.5,395.3 1417.5,389.4 1453.5,383.3 1489,377.6 1523.5,373.9 1559.5,367.5 1594.5,361.6 1630.5,355.3 1665.5,349.2 1700,342.5 1735,335.4 1750,333 1764,330.3" fill="none" stroke="#ff0000" stroke-width="1"/>
<polyline points="-4.5,799.3 2.61,797.4 9.68,796.38 16.76,802.5 23.83,801.23 30.9,798.29 37.98,808.24 45.05,816.52 52.13,812.06 59.2,806.96 66.27,806.71 73.35,804.16 80.42,811.42 87.49,800.33 94.57,814.35 101.64,816.52 108.72,797.4 115.79,817.16 122.86,831.43 129.94,826.33 137.01,830.54 144.08,825.44 151.16,825.44 158.23,825.44 165.31,828.88 172.38,829.27 179.45,821.24 186.53,827.35 193.6,825.44 200.68,817.41 207.75,819.45 214.82,816.52 221.9,820.34 228.97,811.42 236.04,811.42 243.12,807.6 250.19,811.42 257.27,808.24 264.34,819.07 271.41,833.09 278.49,835.64 285.56,838.19 292.63,838.57 299.71,838.57 306.78,831.56 313.86,837.55 320.93,850.3 328.0,835.64 335.08,833.09 342.15,838.57 349.22,836.53 356.3,829.27 363.37,827.35 370.45,825.82 377.52,817.41 384.59,822.26 391.67,820.34 398.74,819.96 405.82,821.62 412.89,813.33 419.96,816.52 427.04,821.62 434.11,817.16 441.18,812.06 448.26,802.12 455.33,815.25 462.41,824.8 469.48,833.09 476.55,826.72 483.63,822.0 490.7,826.08 497.77,783.38 504.85,778.67 511.92,784.27 519.0,781.22 526.07,783.38 533.14,780.2 540.22,788.48 547.29,788.48 554.37,790.39 561.44,800.59 568.51,800.33 575.59,798.68 582.66,801.86 589.73,806.32 596.81,803.78 603.88,801.23 610.96,798.68 618.03,806.71 625.1,799.31 632.18,793.96 639.25,789.76 646.32,799.57 653.4,797.4 660.47,794.85 667.55,792.69 674.62,803.14 681.69,790.14 688.77,784.66 695.84,780.2 702.91,790.18 709.99,790.18 717.06,787.25 724.14,793.24 731.21,784.31 738.28,790.43 745.36,782.53 752.43,786.35 759.51,783.04 766.58,778.71 773.65,789.16 780.73,781.26 787.8,777.69 794.87,774.88 801.95,771.06 809.02,769.4 816.1,766.47 823.17,764.94 830.24,759.59 837.32,759.21 844.39,761.37 851.46,758.31 858.54,768.77 865.61,772.33 872.69,768.77 879.76,767.49 886.83,767.24 893.91,764.3 900.98,768.77 908.06,777.05 915.13,776.41 922.2,766.85 929.28,762.14 936.35,779.98 943.42,779.98 950.5,779.98 957.57,787.25 964.65,781.51 971.72,775.39 978.79,768.13 985.87,765.2 992.94,761.37 1000.01,761.37 1007.09,760.48 1014.16,759.21 1021.24,754.49 1028.31,752.45 1035.38,751.56 1042.46,749.39 1049.53,754.75 1056.6,775.39 1063.68,774.5 1070.75,785.59 1077.83,791.07 1084.9,794.26 1091.97,789.8 1099.05,788.14 1106.12,786.61 1113.2,783.42 1120.27,769.02 1127.34,780.24 1134.42,803.18 1141.49,816.18 1148.56,815.67 1155.64,823.37 1162.71,814.07 1169.79,806.04 1176.86,809.35 1183.93,821.72 1191.01,826.18 1198.08,827.45 1205.15,817.26 1212.23,817.26 1219.3,822.35 1226.38,799.67 1233.45,806.42 1240.52,805.53 1247.6,803.87 1254.67,799.16 1261.74,803.24 1268.82,803.24 1275.89,794.57 1282.97,789.22 1290.04,782.84 1297.11,775.45 1304.19,794.57 1311.26,799.41 1318.34,795.59 1325.41,787.3 1332.48,785.65 1339.56,789.85 1346.63,799.16 1353.7,802.6 1360.78,813.18 1367.85,813.43 1374.93,825.92 1382.0,831.53 1389.07,817.26 1396.15,832.55 1403.22,835.1 1410.29,840.83 1417.37,843.0 1424.44,833.19 1431.52,842.75 1438.59,845.55 1445.66,842.11 1452.74,847.21 1459.81,851.67 1466.89,844.28 1473.96,844.28 1481.03,840.45 1488.11,840.45 1495.18,834.46 1502.25,827.2 1509.33,847.21 1516.4,848.86 1523.48,855.75 1530.55,838.29 1537.62,828.73 1544.7,821.08 1551.77,827.45 1558.84,822.61 1565.92,824.65 1572.99,830.64 1580.07,813.43 1587.14,817.51 1594.21,812.41 1601.29,812.41 1608.36,819.55 1615.43,811.52 1622.51,813.18 1629.58,812.41 1636.66,818.53 1643.73,814.07 1650.8,811.52 1657.88,814.45 1664.95,811.52 1672.03,811.52 1679.1,814.71 1686.17,827.2 1693.25,831.91 1700.32,831.28 1707.39,830.64 1714.47,814.96 1721.54,804.51 1728.62,809.35 1735.69,809.35 1742.76,819.17 1749.84,828.73 1756.91,830.26 1763.98,822.99" fill="none" stroke="#ff0000" stroke-width="1"/>
<path d="M0 684.4L1846 374.4M0 470.2L661 559.4M491 604.6L1453 156.3" stroke="#0000ff" stroke-width="1" fill="none"/>
<g fill="#0000ff" font-weight="bold" font-size="13" filter="url(#th)">
<text x="1477" y="451" textLength="188" lengthAdjust="spacingAndGlyphs">worth a long on first attempt</text>
<text x="1477" y="467" textLength="122" lengthAdjust="spacingAndGlyphs">of major trend line</text>
<text x="1477" y="483.5" textLength="147" lengthAdjust="spacingAndGlyphs">with stops below 3000</text>
</g>
<rect x="0" y="740" width="1883" height="1" fill="#000"/>
<rect x="1846" y="0" width="1" height="861" fill="#000"/>
<rect x="0" y="878" width="1846" height="1" fill="#000"/>
<path d="M1846 739.5H1853 M1846 734.5H1849 M1846 729.5H1849 M1846 724.5H1849 M1846 719.5H1849 M1846 714.5H1853 M1846 709.5H1849 M1846 703.5H1849 M1846 698.5H1849 M1846 693.5H1849 M1846 688.5H1853 M1846 683.5H1849 M1846 678.5H1849 M1846 673.5H1849 M1846 668.5H1849 M1846 663.5H1853 M1846 658.5H1849 M1846 653.5H1849 M1846 648.5H1849 M1846 642.5H1849 M1846 637.5H1853 M1846 632.5H1849 M1846 627.5H1849 M1846 622.5H1849 M1846 617.5H1849 M1846 612.5H1853 M1846 607.5H1849 M1846 602.5H1849 M1846 597.5H1849 M1846 592.5H1849 M1846 587.5H1853 M1846 581.5H1849 M1846 576.5H1849 M1846 571.5H1849 M1846 566.5H1849 M1846 561.5H1853 M1846 556.5H1849 M1846 551.5H1849 M1846 546.5H1849 M1846 541.5H1849 M1846 536.5H1853 M1846 531.5H1849 M1846 526.5H1849 M1846 520.5H1849 M1846 515.5H1849 M1846 510.5H1853 M1846 505.5H1849 M1846 500.5H1849 M1846 495.5H1849 M1846 490.5H1849 M1846 485.5H1853 M1846 480.5H1849 M1846 475.5H1849 M1846 470.5H1849 M1846 465.5H1849 M1846 459.5H1853 M1846 454.5H1849 M1846 449.5H1849 M1846 444.5H1849 M1846 439.5H1849 M1846 434.5H1853 M1846 429.5H1849 M1846 424.5H1849 M1846 419.5H1849 M1846 414.5H1849 M1846 409.5H1853 M1846 404.5H1849 M1846 398.5H1849 M1846 393.5H1849 M1846 388.5H1849 M1846 383.5H1853 M1846 378.5H1849 M1846 373.5H1849 M1846 368.5H1849 M1846 363.5H1849 M1846 358.5H1853 M1846 353.5H1849 M1846 348.5H1849 M1846 343.5H1849 M1846 337.5H1849 M1846 332.5H1853 M1846 327.5H1849 M1846 322.5H1849 M1846 317.5H1849 M1846 312.5H1849 M1846 307.5H1853 M1846 302.5H1849 M1846 297.5H1849 M1846 292.5H1849 M1846 287.5H1849 M1846 282.5H1853 M1846 277.5H1849 M1846 271.5H1849 M1846 266.5H1849 M1846 261.5H1849 M1846 256.5H1853 M1846 251.5H1849 M1846 246.5H1849 M1846 241.5H1849 M1846 236.5H1849 M1846 231.5H1853 M1846 226.5H1849 M1846 221.5H1849 M1846 216.5H1849 M1846 210.5H1849 M1846 205.5H1853 M1846 200.5H1849 M1846 195.5H1849 M1846 190.5H1849 M1846 185.5H1849 M1846 180.5H1853 M1846 175.5H1849 M1846 170.5H1849 M1846 165.5H1849 M1846 160.5H1849 M1846 155.5H1853 M1846 149.5H1849 M1846 144.5H1849 M1846 139.5H1849 M1846 134.5H1849 M1846 129.5H1853 M1846 124.5H1849 M1846 119.5H1849 M1846 114.5H1849 M1846 109.5H1849 M1846 104.5H1853 M1846 99.5H1849 M1846 94.5H1849 M1846 88.5H1849 M1846 83.5H1849 M1846 78.5H1853 M1846 73.5H1849 M1846 68.5H1849 M1846 63.5H1849 M1846 58.5H1849 M1846 53.5H1853 M1846 48.5H1849 M1846 43.5H1849 M1846 38.5H1849 M1846 33.5H1849 M1846 27.5H1853 M1846 22.5H1849 M1846 17.5H1849 M1846 12.5H1849 M1846 6.5H1849 M1846 1.5H1852" stroke="#000" stroke-width="1"/>
<g font-size="10" fill="#000" text-anchor="end" filter="url(#th)">
<text x="1879.6" y="718" textLength="20" lengthAdjust="spacingAndGlyphs">2400</text>
<text x="1879.6" y="692" textLength="20" lengthAdjust="spacingAndGlyphs">2450</text>
<text x="1879.6" y="667" textLength="20" lengthAdjust="spacingAndGlyphs">2500</text>
<text x="1879.6" y="641" textLength="20" lengthAdjust="spacingAndGlyphs">2550</text>
<text x="1879.6" y="616" textLength="20" lengthAdjust="spacingAndGlyphs">2600</text>
<text x="1879.6" y="591" textLength="20" lengthAdjust="spacingAndGlyphs">2650</text>
<text x="1879.6" y="565" textLength="20" lengthAdjust="spacingAndGlyphs">2700</text>
<text x="1879.6" y="540" textLength="20" lengthAdjust="spacingAndGlyphs">2750</text>
<text x="1879.6" y="514" textLength="20" lengthAdjust="spacingAndGlyphs">2800</text>
<text x="1879.6" y="489" textLength="20" lengthAdjust="spacingAndGlyphs">2850</text>
<text x="1879.6" y="463" textLength="20" lengthAdjust="spacingAndGlyphs">2900</text>
<text x="1879.6" y="438" textLength="20" lengthAdjust="spacingAndGlyphs">2950</text>
<text x="1879.6" y="413" textLength="20" lengthAdjust="spacingAndGlyphs">3000</text>
<text x="1879.6" y="387" textLength="20" lengthAdjust="spacingAndGlyphs">3050</text>
<text x="1879.6" y="362" textLength="20" lengthAdjust="spacingAndGlyphs">3100</text>
<text x="1879.6" y="336" textLength="20" lengthAdjust="spacingAndGlyphs">3150</text>
<text x="1879.6" y="311" textLength="20" lengthAdjust="spacingAndGlyphs">3200</text>
<text x="1879.6" y="286" textLength="20" lengthAdjust="spacingAndGlyphs">3250</text>
<text x="1879.6" y="260" textLength="20" lengthAdjust="spacingAndGlyphs">3300</text>
<text x="1879.6" y="235" textLength="20" lengthAdjust="spacingAndGlyphs">3350</text>
<text x="1879.6" y="209" textLength="20" lengthAdjust="spacingAndGlyphs">3400</text>
<text x="1879.6" y="184" textLength="20" lengthAdjust="spacingAndGlyphs">3450</text>
<text x="1879.6" y="159" textLength="20" lengthAdjust="spacingAndGlyphs">3500</text>
<text x="1879.6" y="133" textLength="20" lengthAdjust="spacingAndGlyphs">3550</text>
<text x="1879.6" y="108" textLength="20" lengthAdjust="spacingAndGlyphs">3600</text>
<text x="1879.6" y="82" textLength="20" lengthAdjust="spacingAndGlyphs">3650</text>
<text x="1879.6" y="57" textLength="20" lengthAdjust="spacingAndGlyphs">3700</text>
<text x="1879.6" y="31" textLength="20" lengthAdjust="spacingAndGlyphs">3750</text>
<text x="1879.6" y="750" textLength="10" lengthAdjust="spacingAndGlyphs">90</text>
<text x="1879.6" y="768" textLength="10" lengthAdjust="spacingAndGlyphs">80</text>
<text x="1879.6" y="785" textLength="10" lengthAdjust="spacingAndGlyphs">70</text>
<text x="1879.6" y="803" textLength="10" lengthAdjust="spacingAndGlyphs">60</text>
<text x="1879.6" y="820" textLength="10" lengthAdjust="spacingAndGlyphs">50</text>
<text x="1879.6" y="837" textLength="10" lengthAdjust="spacingAndGlyphs">40</text>
<text x="1879.6" y="854" textLength="10" lengthAdjust="spacingAndGlyphs">30</text>
</g>
<path d="M1846 858.5H1849 M1846 849.5H1853 M1846 841.5H1849 M1846 832.5H1853 M1846 823.5H1849 M1846 815.5H1853 M1846 806.5H1849 M1846 798.5H1853 M1846 789.5H1849 M1846 780.5H1853 M1846 771.5H1849 M1846 763.5H1853 M1846 754.5H1849 M1846 745.5H1853" stroke="#000" stroke-width="1"/>
<defs><clipPath id="axclip"><rect x="0" y="860" width="1846" height="29"/></clipPath></defs>
<g clip-path="url(#axclip)"><g font-size="10" fill="#000" filter="url(#th)">
<text x="25" y="876" font-size="10" textLength="10" lengthAdjust="spacingAndGlyphs">20</text>
<text x="60" y="876" font-size="10" textLength="10" lengthAdjust="spacingAndGlyphs">28</text>
<text x="88" y="876" font-size="10" textLength="5" lengthAdjust="spacingAndGlyphs">3</text>
<text x="124" y="876" font-size="10" textLength="10" lengthAdjust="spacingAndGlyphs">10</text>
<text x="159" y="876" font-size="10" textLength="10" lengthAdjust="spacingAndGlyphs">17</text>
<text x="195" y="876" font-size="10" textLength="10" lengthAdjust="spacingAndGlyphs">24</text>
<text x="230" y="876" font-size="10" textLength="5" lengthAdjust="spacingAndGlyphs">1</text>
<text x="265" y="876" font-size="10" textLength="5" lengthAdjust="spacingAndGlyphs">8</text>
<text x="300" y="876" font-size="10" textLength="10" lengthAdjust="spacingAndGlyphs">15</text>
<text x="336" y="876" font-size="10" textLength="10" lengthAdjust="spacingAndGlyphs">22</text>
<text x="371" y="876" font-size="10" textLength="10" lengthAdjust="spacingAndGlyphs">29</text>
<text x="407" y="876" font-size="10" textLength="5" lengthAdjust="spacingAndGlyphs">5</text>
<text x="442" y="876" font-size="10" textLength="10" lengthAdjust="spacingAndGlyphs">12</text>
<text x="478" y="876" font-size="10" textLength="10" lengthAdjust="spacingAndGlyphs">19</text>
<text x="513" y="876" font-size="10" textLength="10" lengthAdjust="spacingAndGlyphs">26</text>
<text x="549" y="876" font-size="10" textLength="5" lengthAdjust="spacingAndGlyphs">3</text>
<text x="583" y="876" font-size="10" textLength="10" lengthAdjust="spacingAndGlyphs">10</text>
<text x="619" y="876" font-size="10" textLength="10" lengthAdjust="spacingAndGlyphs">17</text>
<text x="654" y="876" font-size="10" textLength="10" lengthAdjust="spacingAndGlyphs">24</text>
<text x="676" y="876" font-size="10" textLength="10" lengthAdjust="spacingAndGlyphs">31</text>
<text x="704" y="876" font-size="10" textLength="5" lengthAdjust="spacingAndGlyphs">7</text>
<text x="740" y="876" font-size="10" textLength="10" lengthAdjust="spacingAndGlyphs">14</text>
<text x="774" y="876" font-size="10" textLength="10" lengthAdjust="spacingAndGlyphs">21</text>
<text x="810" y="876" font-size="10" textLength="10" lengthAdjust="spacingAndGlyphs">28</text>
<text x="845" y="876" font-size="10" textLength="5" lengthAdjust="spacingAndGlyphs">4</text>
<text x="881" y="876" font-size="10" textLength="10" lengthAdjust="spacingAndGlyphs">11</text>
<text x="916" y="876" font-size="10" textLength="10" lengthAdjust="spacingAndGlyphs">18</text>
<text x="952" y="876" font-size="10" textLength="10" lengthAdjust="spacingAndGlyphs">25</text>
<text x="987" y="876" font-size="10" textLength="5" lengthAdjust="spacingAndGlyphs">4</text>
<text x="1022" y="876" font-size="10" textLength="10" lengthAdjust="spacingAndGlyphs">11</text>
<text x="1058" y="876" font-size="10" textLength="10" lengthAdjust="spacingAndGlyphs">18</text>
<text x="1093" y="876" font-size="10" textLength="10" lengthAdjust="spacingAndGlyphs">25</text>
<text x="1122" y="876" font-size="10" textLength="5" lengthAdjust="spacingAndGlyphs">2</text>
<text x="1150" y="876" font-size="10" textLength="5" lengthAdjust="spacingAndGlyphs">8</text>
<text x="1185" y="876" font-size="10" textLength="10" lengthAdjust="spacingAndGlyphs">15</text>
<text x="1220" y="876" font-size="10" textLength="10" lengthAdjust="spacingAndGlyphs">22</text>
<text x="1255" y="876" font-size="10" textLength="10" lengthAdjust="spacingAndGlyphs">29</text>
<text x="1291" y="876" font-size="10" textLength="5" lengthAdjust="spacingAndGlyphs">7</text>
<text x="1319" y="876" font-size="10" textLength="10" lengthAdjust="spacingAndGlyphs">13</text>
<text x="1354" y="876" font-size="10" textLength="10" lengthAdjust="spacingAndGlyphs">20</text>
<text x="1390" y="876" font-size="10" textLength="10" lengthAdjust="spacingAndGlyphs">28</text>
<text x="1418" y="876" font-size="10" textLength="5" lengthAdjust="spacingAndGlyphs">3</text>
<text x="1454" y="876" font-size="10" textLength="10" lengthAdjust="spacingAndGlyphs">10</text>
<text x="1489" y="876" font-size="10" textLength="10" lengthAdjust="spacingAndGlyphs">17</text>
<text x="1524" y="876" font-size="10" textLength="10" lengthAdjust="spacingAndGlyphs">24</text>
<text x="1560" y="876" font-size="10" textLength="5" lengthAdjust="spacingAndGlyphs">1</text>
<text x="1595" y="876" font-size="10" textLength="5" lengthAdjust="spacingAndGlyphs">8</text>
<text x="1631" y="876" font-size="10" textLength="10" lengthAdjust="spacingAndGlyphs">15</text>
<text x="1666" y="876" font-size="10" textLength="10" lengthAdjust="spacingAndGlyphs">22</text>
<text x="1701" y="876" font-size="10" textLength="10" lengthAdjust="spacingAndGlyphs">29</text>
<text x="1736" y="876" font-size="10" textLength="5" lengthAdjust="spacingAndGlyphs">5</text>
<text x="1772" y="876" font-size="10" textLength="10" lengthAdjust="spacingAndGlyphs">12</text>
<text x="1807" y="876" font-size="10" textLength="10" lengthAdjust="spacingAndGlyphs">19</text>
<text x="1843" y="876" font-size="10" textLength="10" lengthAdjust="spacingAndGlyphs">26</text>
<text x="89" y="889" textLength="44" lengthAdjust="spacingAndGlyphs">September</text>
<text x="231" y="889" textLength="32" lengthAdjust="spacingAndGlyphs">October</text>
<text x="393" y="889" textLength="42" lengthAdjust="spacingAndGlyphs">November</text>
<text x="550" y="889" textLength="42" lengthAdjust="spacingAndGlyphs">December</text>
<text x="683" y="889" textLength="20" lengthAdjust="spacingAndGlyphs">2013</text>
<text x="839" y="889" textLength="38" lengthAdjust="spacingAndGlyphs">February</text>
<text x="981" y="889" textLength="24" lengthAdjust="spacingAndGlyphs">March</text>
<text x="1123" y="889" textLength="17" lengthAdjust="spacingAndGlyphs">April</text>
<text x="1271" y="889" textLength="18" lengthAdjust="spacingAndGlyphs">May</text>
<text x="1419" y="889" textLength="19" lengthAdjust="spacingAndGlyphs">June</text>
<text x="1561" y="889" textLength="16" lengthAdjust="spacingAndGlyphs">July</text>
<text x="1702" y="889" textLength="28" lengthAdjust="spacingAndGlyphs">August</text>
</g></g>
<path d="M24.5 867V878 M59.5 867V878 M87.5 867V878 M123.5 867V878 M158.5 867V878 M194.5 867V878 M229.5 867V878 M264.5 867V878 M299.5 867V878 M335.5 867V878 M370.5 867V878 M406.5 867V878 M441.5 867V878 M477.5 867V878 M512.5 867V878 M548.5 867V878 M582.5 867V878 M618.5 867V878 M653.5 867V878 M675.5 867V878 M703.5 867V878 M739.5 867V878 M773.5 867V878 M809.5 867V878 M844.5 867V878 M880.5 867V878 M915.5 867V878 M951.5 867V878 M986.5 867V878 M1021.5 867V878 M1057.5 867V878 M1092.5 867V878 M1121.5 867V878 M1149.5 867V878 M1184.5 867V878 M1219.5 867V878 M1254.5 867V878 M1290.5 867V878 M1318.5 867V878 M1353.5 867V878 M1389.5 867V878 M1417.5 867V878 M1453.5 867V878 M1488.5 867V878 M1523.5 867V878 M1559.5 867V878 M1594.5 867V878 M1630.5 867V878 M1665.5 867V878 M1700.5 867V878 M1735.5 867V878 M1771.5 867V878 M1806.5 867V878 M1842.5 867V878 M87.5 867V889 M229.5 867V889 M391.5 867V889 M548.5 867V889 M681.5 867V889 M837.5 867V889 M979.5 867V889 M1121.5 867V889 M1269.5 867V889 M1417.5 867V889 M1559.5 867V889 M1700.5 867V889" stroke="#000" stroke-width="1"/>
</svg></body></html>
